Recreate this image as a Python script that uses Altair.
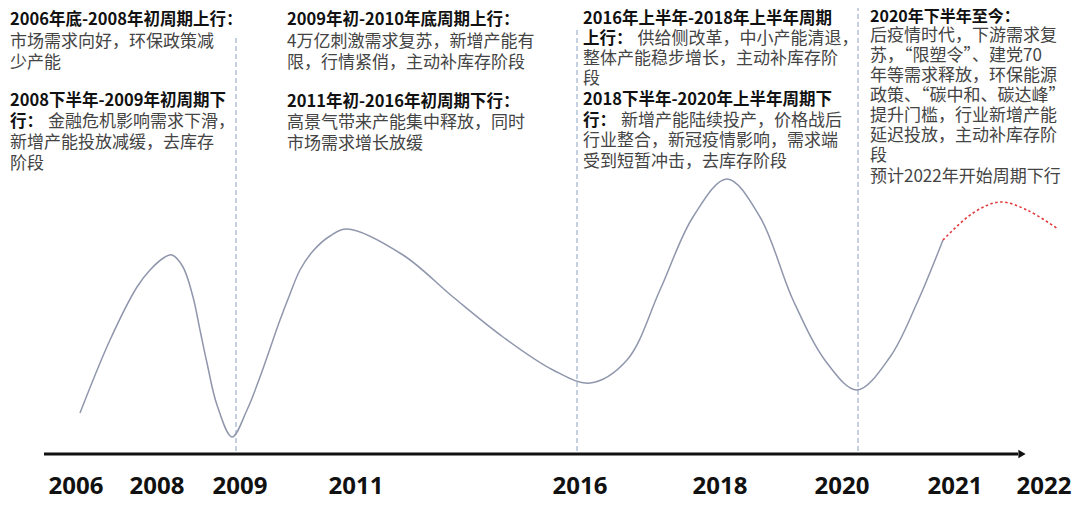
import altair as alt
import pandas as pd

# ---------------- data ----------------
# timeline tick labels and their positions along the timeline (px-like units)
years = ["2006", "2008", "2009", "2011", "2016", "2018", "2020", "2021", "2022"]
year_pos = [76, 157, 240, 356, 580, 720, 842, 955, 1044]

# cycle curve: position along timeline and cycle level (height above axis)
curve_pos = [80, 110, 137, 150, 165, 172, 183, 193, 200, 207, 217, 232, 247, 260, 280, 290,
             300, 313, 330, 347, 403, 453, 503, 553, 590, 627, 660, 693, 727, 760, 793, 827, 857,
             890, 917, 943]
curve_level = [41, 114, 167, 184, 197, 199, 187, 157, 124, 91, 49, 17, 44, 77, 134, 160,
               184, 203, 218, 225, 199, 157, 117, 84, 71, 94, 164, 237, 275, 237, 154, 91, 64,
               97, 151, 214]

# forecast (red dotted)
fc_pos = [943, 973, 1000, 1027, 1058]
fc_level = [214, 241, 252, 244, 225]

# phase boundaries (dashed verticals)
bound_pos = [236, 577, 858]
bound_top = [419, 424, 451]
bound_bottom = [3, 3, 3]

# annotation texts
b1_head1 = "2006年底-2008年初周期上行："
b1_body1 = ["市场需求向好，环保政策减", "少产能"]
b1_head2 = "2008下半年-2009年初周期下"
b1_body2_bold = "行："
b1_body2 = ["金融危机影响需求下滑，", "新增产能投放减缓，去库存", "阶段"]

b2_head1 = "2009年初-2010年底周期上行："
b2_body1 = ["4万亿刺激需求复苏，新增产能有", "限，行情紧俏，主动补库存阶段"]
b2_head2 = "2011年初-2016年初周期下行："
b2_body2 = ["高景气带来产能集中释放，同时", "市场需求增长放缓"]

b3_head1 = "2016年上半年-2018年上半年周期"
b3_body1_bold = "上行："
b3_body1 = ["供给侧改革，中小产能清退，", "整体产能稳步增长，主动补库存阶", "段"]
b3_head2 = "2018下半年-2020年上半年周期下"
b3_body2_bold = "行："
b3_body2 = ["新增产能陆续投产，价格战后", "行业整合，新冠疫情影响，需求端", "受到短暂冲击，去库存阶段"]

b4_head = "2020年下半年至今："
b4_body = ["后疫情时代，下游需求复", "苏，“限塑令”、建党70", "年等需求释放，环保能源",
           "政策、“碳中和、碳达峰”", "提升门槛，行业新增产能", "延迟投放，主动补库存阶", "段",
           "预计2022年开始周期下行"]

# ---------------- layout ----------------
W, H = 1064, 497
AXIS_Y = 454  # page y of the timeline
x_scale = alt.Scale(domain=[8, 8 + W], nice=False, zero=False)
y_scale = alt.Scale(domain=[AXIS_Y - 8 - H, AXIS_Y - 8], nice=False, zero=False)
X = lambda f: alt.X(f, type="quantitative", scale=x_scale, axis=None)
Y = lambda f: alt.Y(f, type="quantitative", scale=y_scale, axis=None)

CJK = "Noto Sans CJK SC"
HEAD_SIZE = 16.5
BODY_SIZE = 17

rows_head, rows_body = [], []


def lvl(page_y):
    return AXIS_Y - page_y


def add(rows, x, page_y, text, size=None):
    rows.append({"x": x, "y": lvl(page_y), "t": text,
                 "s": size if size is not None else (HEAD_SIZE if rows is rows_head else BODY_SIZE)})


# block 1
add(rows_head, 10, 20, b1_head1)
for i, t in enumerate(b1_body1):
    add(rows_body, 10, 42 + 20.5 * i, t)
add(rows_head, 10, 101, b1_head2)
add(rows_head, 10, 122, b1_body2_bold)
add(rows_body, 10 + 2 * HEAD_SIZE + 5, 122, b1_body2[0])
for i, t in enumerate(b1_body2[1:]):
    add(rows_body, 10, 143 + 20.5 * i, t)

# block 2
add(rows_head, 287, 20, b2_head1)
for i, t in enumerate(b2_body1):
    add(rows_body, 287, 42 + 20.5 * i, t)
add(rows_head, 287, 102, b2_head2)
for i, t in enumerate(b2_body2):
    add(rows_body, 287, 123 + 20.5 * i, t)

# block 3
add(rows_head, 583, 18.5, b3_head1)
add(rows_head, 583, 39, b3_body1_bold)
add(rows_body, 583 + 3 * HEAD_SIZE + 5, 39, b3_body1[0])
for i, t in enumerate(b3_body1[1:]):
    add(rows_body, 583, 59 + 20 * i, t)
add(rows_head, 583, 100, b3_head2)
add(rows_head, 583, 120.5, b3_body2_bold)
add(rows_body, 583 + 2 * HEAD_SIZE + 5, 120.5, b3_body2[0])
for i, t in enumerate(b3_body2[1:]):
    add(rows_body, 583, 141 + 20.5 * i, t)

# block 4
add(rows_head, 870, 16.5, b4_head, 16)
for i, t in enumerate(b4_body[:-1]):
    add(rows_body, 870, 36 + 20 * i, t)
add(rows_body, 870, 177, b4_body[-1])

df_head = pd.DataFrame(rows_head)
df_body = pd.DataFrame(rows_body)

df_curve = pd.DataFrame({"x": curve_pos, "y": curve_level})
df_fc = pd.DataFrame({"x": fc_pos, "y": fc_level})
df_bound = pd.DataFrame({"x": bound_pos, "y": bound_bottom, "y2": bound_top})
df_years = pd.DataFrame({"x": year_pos, "t": years})
df_axis = pd.DataFrame({"x": [44], "x2": [1018], "y": [0]})
df_arrow = pd.DataFrame({"x": [1022], "y": [0]})

curve = alt.Chart(df_curve).mark_line(
    interpolate="catmull-rom", color="#9097ad", strokeWidth=1.5
).encode(x=X("x"), y=Y("y"))

forecast = alt.Chart(df_fc).mark_line(
    interpolate="catmull-rom", color="#e0383a", strokeWidth=1.6, strokeDash=[2.5, 2.5]
).encode(x=X("x"), y=Y("y"))

bounds = alt.Chart(df_bound).mark_rule(
    color="#8aa0c0", strokeWidth=1, strokeDash=[5, 3]
).encode(x=X("x"), y=Y("y"), y2="y2")

axis_line = alt.Chart(df_axis).mark_rule(color="#111111", strokeWidth=3).encode(
    x=X("x"), x2="x2", y=Y("y"))

arrow = alt.Chart(df_arrow).mark_point(
    shape="triangle-right", filled=True, color="#111111", size=70, opacity=1
).encode(x=X("x"), y=Y("y"))

year_text = alt.Chart(df_years).mark_text(
    font="Liberation Sans Narrow, Noto Sans", fontWeight="bold", fontSize=24,
    color="#111111", align="center", baseline="middle"
).encode(x=X("x"), y=alt.value(AXIS_Y - 8 + 33), text="t:N")

head_text = alt.Chart(df_head).mark_text(
    font=CJK, fontWeight="bold", color="#111111",
    align="left", baseline="middle"
).encode(x=X("x"), y=Y("y"), text="t:N",
         size=alt.Size("s:Q", scale=None, legend=None))

body_text = alt.Chart(df_body).mark_text(
    font=CJK, fontWeight="normal", color="#444444",
    align="left", baseline="middle"
).encode(x=X("x"), y=Y("y"), text="t:N",
         size=alt.Size("s:Q", scale=None, legend=None))

chart = alt.layer(
    bounds, curve, forecast, axis_line, arrow, year_text, head_text, body_text
).properties(
    width=W, height=H, padding=0,
    autosize=alt.AutoSizeParams(type="none"),
    background="white",
).configure_view(stroke=None)

chart.save("out.html", embed_options={"renderer": "svg", "actions": False})
